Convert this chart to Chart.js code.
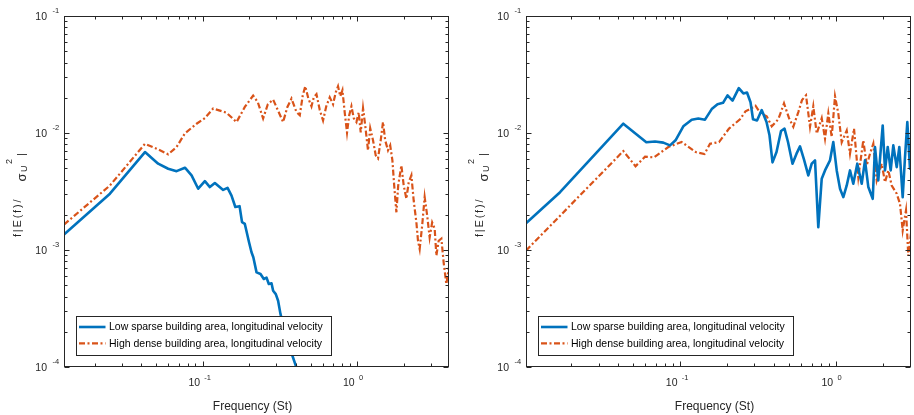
<!DOCTYPE html>
<html><head><meta charset="utf-8">
<script src="https://cdn.jsdelivr.net/npm/chart.js@4.4.1/dist/chart.umd.min.js"></script>
<style>
html,body{margin:0;padding:0;background:#fff;}
canvas{position:absolute;top:0;}
</style>
</head><body>
<canvas id="c1" width="457" height="415" style="left:0px"></canvas>
<canvas id="c2" width="457" height="415" style="left:457px"></canvas>
<script>
// ---------- DATA ----------
const seriesLabels = ['Low sparse building area, longitudinal velocity', 'High dense building area, longitudinal velocity'];
const xAxisTitle = 'Frequency (St)';
const yTickValues = [1e-4, 1e-3, 1e-2, 1e-1];
const yTickExps = ['-4', '-3', '-2', '-1'];
const xTickValues = [0.1, 1];
const xTickExps = ['-1', '0'];

// Left panel
const leftFreqBlue = [0.01269,0.02516,0.0424,0.0516,0.0599,0.0679,0.0769,0.0849,0.0937,0.1035,0.1115,0.1201,0.1359,0.1451,0.1539,0.1629,0.1735,0.180,0.1877,0.200,0.2073,0.213,0.2235,0.2371,0.249,0.2593,0.2683,0.2793,0.2861,0.2977,0.3081,0.3193,0.3404,0.3722,0.405,0.4256];
const leftBlue = [1.355e-3,3.03e-3,6.87e-3,5.47e-3,4.95e-3,4.72e-3,5.05e-3,4.34e-3,3.34e-3,3.88e-3,3.45e-3,3.74e-3,3.26e-3,3.40e-3,2.92e-3,2.33e-3,2.37e-3,1.73e-3,1.67e-3,1.16e-3,9.56e-4,8.66e-4,6.44e-4,6.24e-4,5.65e-4,5.80e-4,5.12e-4,5.19e-4,4.49e-4,4.20e-4,3.68e-4,2.83e-4,2.04e-4,1.37e-4,9.89e-5,7.6e-5];
const leftFreqOrange = [0.01269,0.02516,0.0424,0.0504,0.0599,0.0679,0.0769,0.0915,0.1035,0.1171,0.1429,0.1659,0.1877,0.2124,0.2278,0.2465,0.2643,0.2861,0.3067,0.3319,0.3533,0.3761,0.405,0.4256,0.445,0.4618,0.483,0.5066,0.5243,0.5457,0.5731,0.602,0.6314,0.665,0.6986,0.7273,0.7524,0.7776,0.8035,0.831,0.8603,0.8889,0.9188,0.9506,0.9897,1.024,1.055,1.092,1.128,1.176,1.215,1.267,1.319,1.365,1.421,1.47,1.519,1.584,1.637,1.691,1.737,1.795,1.844,1.933,2.001,2.083,2.156,2.244,2.322,2.417,2.476,2.539,2.635,2.735,2.839,2.946,3.058,3.175,3.256,3.37,3.508,3.63,3.778,3.928];
const leftOrange = [1.65e-3,3.56e-3,8.08e-3,7.35e-3,6.57e-3,7.59e-3,9.94e-3,1.20e-2,1.34e-2,1.62e-2,1.49e-2,1.24e-2,1.67e-2,2.09e-2,1.83e-2,1.33e-2,1.76e-2,1.93e-2,1.57e-2,1.24e-2,1.66e-2,1.97e-2,1.51e-2,1.42e-2,2.10e-2,2.51e-2,1.98e-2,1.69e-2,2.02e-2,2.15e-2,1.57e-2,1.28e-2,1.69e-2,2.02e-2,1.76e-2,2.23e-2,2.51e-2,2.06e-2,2.32e-2,1.50e-2,1.01e-2,1.42e-2,1.69e-2,1.34e-2,1.24e-2,1.50e-2,1.01e-2,1.63e-2,1.16e-2,7.11e-3,1.10e-2,8.66e-3,6.44e-3,6.07e-3,8.66e-3,1.24e-2,8.66e-3,7.11e-3,7.84e-3,5.84e-3,3.56e-3,2.10e-3,3.56e-3,5.29e-3,3.56e-3,2.74e-3,3.78e-3,4.34e-3,2.65e-3,1.73e-3,1.20e-3,1.02e-3,1.62e-3,2.83e-3,1.97e-3,1.28e-3,1.72e-3,1.52e-3,8.95e-4,1.20e-3,1.25e-3,7.80e-4,5.12e-4,7.11e-4];

// Right panel
const rightFreqBlue = [0.01025,0.01696,0.04323,0.06074,0.0691,0.0781,0.08625,0.0936,0.105,0.1189,0.1311,0.1447,0.1598,0.1741,0.1889,0.2019,0.2174,0.2385,0.2551,0.2693,0.2837,0.2943,0.3123,0.3347,0.3594,0.3756,0.3927,0.4167,0.4454,0.469,0.4938,0.5278,0.5601,0.5898,0.6258,0.6668,0.7013,0.7364,0.773,0.8131,0.8536,0.9192,0.9651,1.015,1.066,1.119,1.177,1.235,1.297,1.376,1.469,1.542,1.62,1.729,1.788,1.877,2.004,2.073,2.158,2.255,2.344,2.465,2.562,2.693,2.787,2.884,3.0,3.045];
const rightBlue = [1.69e-3,3.12e-3,1.20e-2,8.33e-3,8.46e-3,8.28e-3,7.84e-3,8.66e-3,1.14e-2,1.30e-2,1.33e-2,1.30e-2,1.60e-2,1.76e-2,1.81e-2,2.10e-2,1.89e-2,2.42e-2,2.18e-2,2.22e-2,1.83e-2,1.31e-2,1.28e-2,1.57e-2,1.24e-2,9.56e-3,5.61e-3,6.87e-3,1.04e-2,1.09e-2,8.37e-3,5.47e-3,6.66e-3,7.69e-3,5.92e-3,4.34e-3,5.47e-3,5.84e-3,1.57e-3,4.07e-3,4.79e-3,5.84e-3,8.37e-3,4.79e-3,3.34e-3,2.83e-3,3.56e-3,4.79e-3,3.68e-3,5.47e-3,3.68e-3,5.84e-3,3.45e-3,2.74e-3,7.59e-3,3.93e-3,1.16e-2,4.79e-3,7.59e-3,4.79e-3,7.84e-3,5.11e-3,7.59e-3,2.83e-3,6.23e-3,1.24e-2,4.95e-3,7.40e-3];
const rightFreqOrange = [0.01025,0.04323,0.05178,0.0596,0.0681,0.0841,0.1025,0.1263,0.1436,0.1558,0.1781,0.2064,0.2428,0.2634,0.2837,0.3054,0.3289,0.3604,0.3881,0.4279,0.4656,0.5013,0.5341,0.5752,0.6074,0.6446,0.6838,0.7179,0.7551,0.8131,0.8536,0.8965,0.9425,0.9897,1.039,1.093,1.177,1.235,1.311,1.397,1.504,1.582,1.661,1.744,1.834,1.974,2.073,2.177,2.289,2.465,2.588,2.693,2.828,2.926,3.045];
const rightOrange = [9.88e-4,7.01e-3,5.20e-3,6.28e-3,6.19e-3,7.59e-3,8.37e-3,6.87e-3,6.61e-3,8.08e-3,8.37e-3,1.09e-2,1.31e-2,1.53e-2,1.61e-2,1.71e-2,1.47e-2,1.39e-2,1.14e-2,1.31e-2,1.79e-2,1.34e-2,1.13e-2,1.51e-2,1.91e-2,2.10e-2,1.13e-2,1.69e-2,9.88e-3,1.34e-2,8.95e-3,1.47e-2,9.24e-3,2.06e-2,1.47e-2,8.33e-3,1.05e-2,6.66e-3,1.09e-2,4.20e-3,8.66e-3,5.29e-3,6.66e-3,8.11e-3,3.93e-3,5.47e-3,3.80e-3,4.79e-3,3.56e-3,3.03e-3,2.48e-3,1.47e-3,2.18e-3,8.95e-4,1.38e-3];

const leftXRange = [0.01269, 3.93];
const rightXRange = [0.01025, 3.045];
const yRange = [1e-4, 1e-1];

// ---------- STYLE ----------
const BLUE = '#0072BD', ORANGE = '#D95319', AXC = '#262626';
const FONT = '"Liberation Sans", Arial, Helvetica, sans-serif';
const ORANGE_DASH = [6, 2.5, 2, 2.5];

function pts(xs, ys) { return xs.map((x, i) => ({x: x, y: ys[i]})); }

function axesPlugin() {
  return {
    id: 'matlabAxes',
    afterDatasetsDraw(chart) {
      const ctx = chart.ctx, a = chart.chartArea;
      // legend
      const bx = a.left + 12, by = a.bottom - 51, bw = 255, bh = 39;
      ctx.save();
      ctx.fillStyle = '#fff';
      ctx.fillRect(bx, by, bw, bh);
      ctx.strokeStyle = AXC; ctx.lineWidth = 1;
      ctx.strokeRect(Math.round(bx) + 0.5, Math.round(by) + 0.5, bw, bh);
      chart.data.datasets.forEach((ds, i) => {
        const cy = by + 11 + i * 16.3;
        ctx.save();
        ctx.strokeStyle = ds.borderColor; ctx.lineWidth = ds.borderWidth;
        ctx.setLineDash(ds.borderDash || []);
        ctx.beginPath(); ctx.moveTo(bx + 3, cy); ctx.lineTo(bx + 29.5, cy); ctx.stroke();
        ctx.restore();
        ctx.fillStyle = '#000';
        ctx.font = '10.5px ' + FONT;
        ctx.textBaseline = 'middle'; ctx.textAlign = 'left';
        ctx.fillText(ds.label, bx + 33, cy + 0.5);
      });
      ctx.restore();
    },
    afterDraw(chart) {
      const ctx = chart.ctx, a = chart.chartArea;
      const xs = chart.scales.x, ys = chart.scales.y;
      ctx.save();
      ctx.strokeStyle = AXC; ctx.lineWidth = 1;
      const L = Math.round(a.left) + 0.5, R = Math.round(a.right) - 0.5;
      const T = Math.round(a.top) + 0.5, B = Math.round(a.bottom) - 0.5;
      ctx.strokeRect(L, T, R - L, B - T);
      ctx.beginPath();
      // x ticks
      for (let n = -2; n <= 0; n++) {
        for (let k = 1; k <= 9; k++) {
          const v = k * Math.pow(10, n);
          if (v < xs.min * 0.999 || v > xs.max * 1.001) continue;
          const px = Math.round(xs.getPixelForValue(v)) + 0.5;
          const len = k === 1 ? 5 : 3;
          ctx.moveTo(px, B); ctx.lineTo(px, B - len);
          ctx.moveTo(px, T); ctx.lineTo(px, T + len);
        }
      }
      // y ticks
      for (let n = -4; n <= -1; n++) {
        for (let k = 1; k <= 9; k++) {
          const v = k * Math.pow(10, n);
          if (v < ys.min * 0.999 || v > ys.max * 1.001) continue;
          const py = Math.round(ys.getPixelForValue(v)) + 0.5;
          const len = k === 1 ? 5 : 3;
          ctx.moveTo(L, py); ctx.lineTo(L + len, py);
          ctx.moveTo(R, py); ctx.lineTo(R - len, py);
        }
      }
      ctx.stroke();
      // tick labels
      ctx.fillStyle = AXC; ctx.textBaseline = 'middle';
      yTickValues.forEach((v, i) => {
        const py = ys.getPixelForValue(v);
        ctx.font = '10.5px ' + FONT; ctx.textAlign = 'right';
        ctx.fillText('10', a.left - 17, py + 1.5);
        ctx.font = '7.5px ' + FONT; ctx.textAlign = 'left';
        ctx.fillText(yTickExps[i], a.left - 11.5, py - 5);
      });
      xTickValues.forEach((v, i) => {
        const px = xs.getPixelForValue(v);
        ctx.font = '10.5px ' + FONT; ctx.textAlign = 'right';
        ctx.fillText('10', px - 2.5, a.bottom + 16.5);
        ctx.font = '7.5px ' + FONT; ctx.textAlign = 'left';
        ctx.fillText(xTickExps[i], px + 1.8, a.bottom + 10.5);
      });
      // x title
      ctx.font = '12px ' + FONT; ctx.textAlign = 'center';
      ctx.fillText(xAxisTitle, (a.left + a.right) / 2 - 4, a.bottom + 40);
      // y title (rotated)
      ctx.translate(a.left - 43.3, a.top + 221);
      ctx.rotate(-Math.PI / 2);
      ctx.textBaseline = 'alphabetic'; ctx.textAlign = 'left';
      ctx.font = '11px ' + FONT;
      ctx.letterSpacing = '1.8px';
      ctx.fillText('f|E(f)/', 0, 0);
      ctx.letterSpacing = '0px';
      ctx.font = '13px ' + FONT;
      ctx.fillText('\u03C3', 55.5, 5);
      ctx.font = '9px ' + FONT;
      ctx.fillText('U', 65, 6);
      ctx.fillText('2', 73, -9);
      ctx.font = '11px ' + FONT;
      ctx.fillText('|', 81, 4);
      ctx.restore();
    }
  };
}

function makeChart(id, xr, fb, vb, fo, vo, pad) {
  return new Chart(document.getElementById(id), {
    type: 'line',
    data: {
      datasets: [
        { label: seriesLabels[0], data: pts(fb, vb), borderColor: BLUE, borderWidth: 2.6,
          pointRadius: 0, tension: 0, fill: false, borderJoinStyle: 'round' },
        { label: seriesLabels[1], data: pts(fo, vo), borderColor: ORANGE, borderWidth: 2.2,
          borderDash: ORANGE_DASH, pointRadius: 0, tension: 0, fill: false }
      ]
    },
    options: {
      responsive: false, animation: false, devicePixelRatio: 1,
      layout: { padding: pad },
      plugins: { legend: { display: false }, tooltip: { enabled: false } },
      scales: {
        x: { type: 'logarithmic', min: xr[0], max: xr[1], display: false },
        y: { type: 'logarithmic', min: yRange[0], max: yRange[1], display: false }
      }
    },
    plugins: [axesPlugin()]
  });
}

makeChart('c1', leftXRange, leftFreqBlue, leftBlue, leftFreqOrange, leftOrange,
  { left: 64, right: 8, top: 16, bottom: 48 });
makeChart('c2', rightXRange, rightFreqBlue, rightBlue, rightFreqOrange, rightOrange,
  { left: 69, right: 3, top: 16, bottom: 48 });
</script>
</body></html>
